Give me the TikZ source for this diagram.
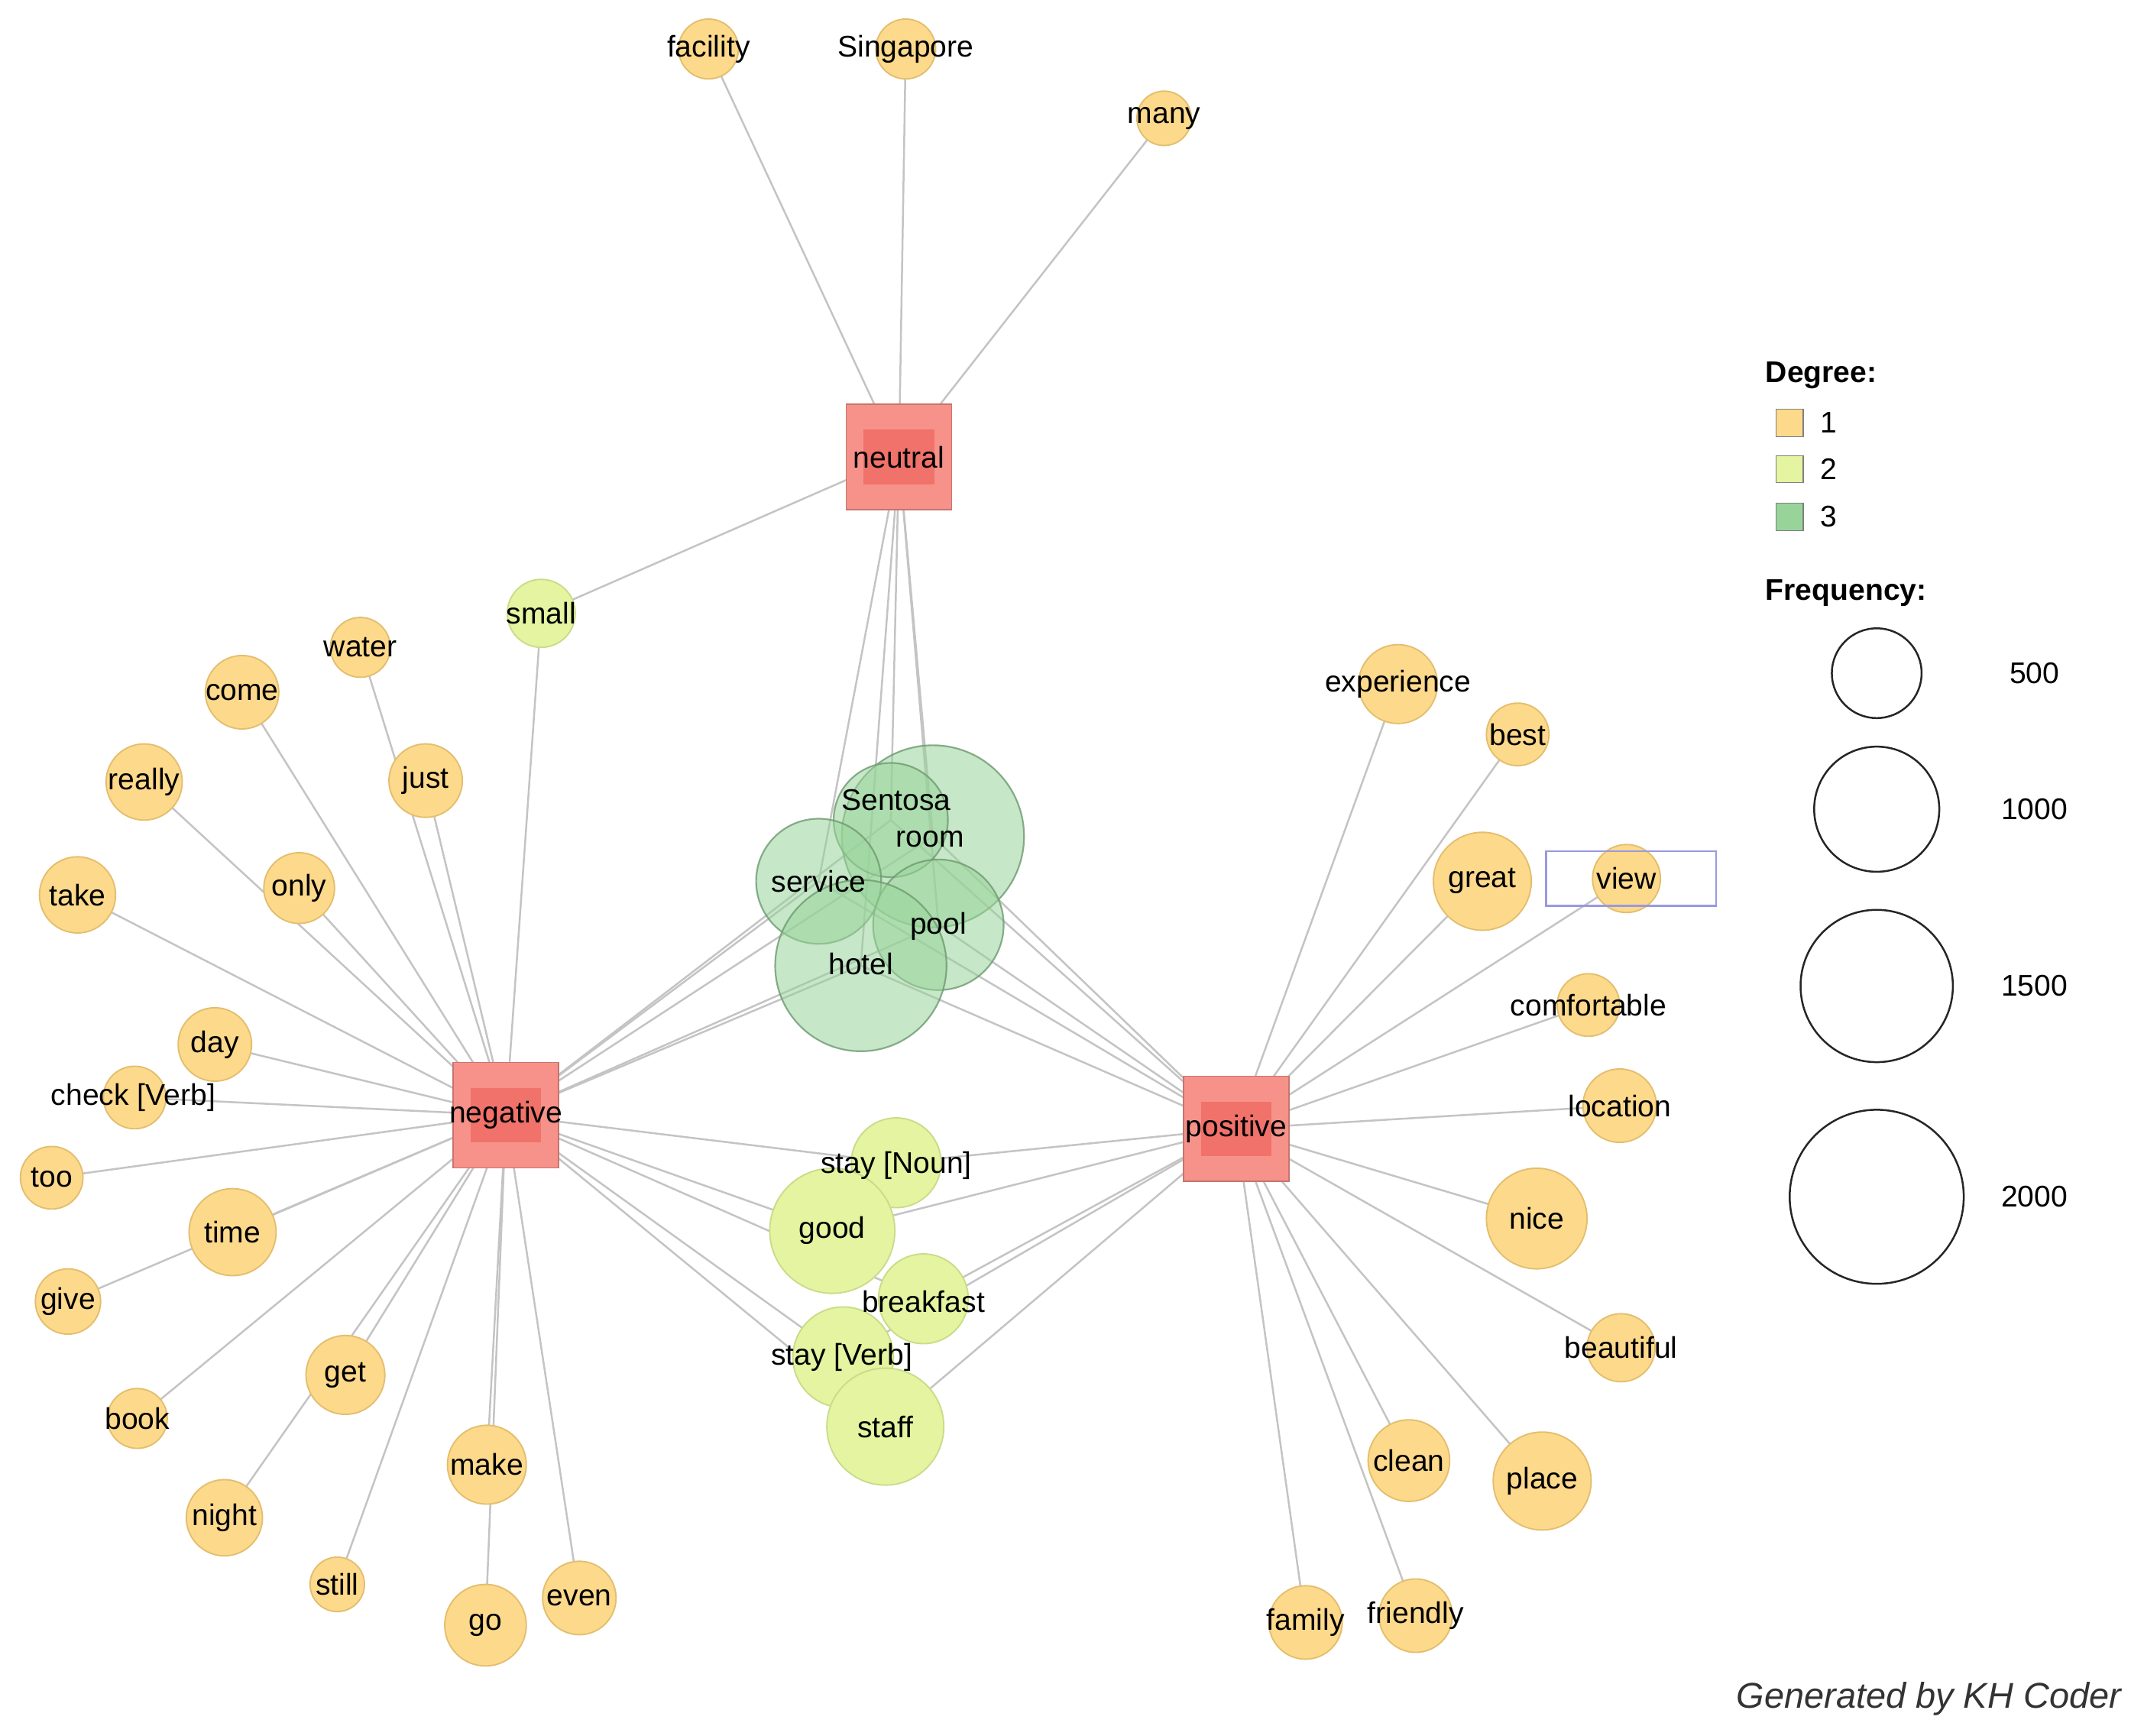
\documentclass[tikz,border=0pt]{standalone}
\usepackage{fontspec}
\setmainfont{Liberation Sans}
\usetikzlibrary{backgrounds}
\definecolor{yl}{HTML}{FDD98B}
\definecolor{yld}{HTML}{E3BE6E}
\definecolor{yg}{HTML}{E4F4A0}
\definecolor{ygd}{HTML}{C9DC88}
\definecolor{gr}{HTML}{98D49A}
\definecolor{grd}{HTML}{6E9A70}
\definecolor{hub}{HTML}{F6928A}
\definecolor{hubi}{HTML}{F0726A}
\definecolor{ed}{HTML}{C4C4C4}
\begin{document}
\begin{tikzpicture}[x=0.02cm,y=-0.02cm,
  lab/.style={font=\fontsize{12.5}{14}\selectfont,inner sep=0pt},
  cy/.style={circle,fill=yl,draw=yld,line width=0.6pt,inner sep=0pt},
  cg/.style={circle,fill=yg,draw=ygd,line width=0.6pt,inner sep=0pt},
  cgr/.style={circle,fill=gr,fill opacity=0.55,draw=grd,draw opacity=0.8,line width=0.7pt,inner sep=0pt},
  hubs/.style={rectangle,fill=hub,draw=hub!80!black,line width=0.5pt,minimum size=1.55cm,inner sep=0pt},
  edge/.style={draw=ed,line width=0.8pt},
  leg/.style={circle,draw=black!85,line width=0.8pt,inner sep=0pt}]
\useasboundingbox (0,0) rectangle (1567,1276);
% hubs
\foreach \n/\x/\y in {neutral/661/336,negative/372/820,positive/909/830}{
  \node[hubs] (\n) at (\x,\y) {};
  \fill[hubi] (\x-26,\y-20) rectangle (\x+26,\y+20);
}
% degree-1 yellow nodes
\foreach \n/\x/\y/\r in {facility/521/36/22,singapore/666/36/22,many/856/87/20,
  water/265/476/22,come/178/509/27,really/106/575/28,just/313/574/27,only/220/653/26,
  take/57/658/28,day/158/768/27,checkv/99/807/23,too/38/866/23,time/171/906/32,
  give/50/957/24,book/101/1043/22,get/254/1011/29,night/165/1116/28,still/248/1165/20,
  make/358/1077/29,go/357/1195/30,even/426/1175/27,
  experience/1028/503/29,best/1116/540/23,great/1090/648/36,view/1196/646/25,
  comfortable/1168/739/23,location/1191/813/27,nice/1130/896/37,beautiful/1192/991/25,
  clean/1036/1074/30,place/1134/1089/36,family/960/1193/27,friendly/1041/1188/27}{
  \node[cy,minimum size=2*\r*0.02cm] (\n) at (\x,\y) {};
}
% degree-2
\foreach \n/\x/\y/\r in {small/398/451/25,staynoun/659/855/33,good/612/905/46,
  breakfast/679/955/33,stayverb/620/998/37,staff/651/1049/43}{
  \node[cg,minimum size=2*\r*0.02cm] (\n) at (\x,\y) {};
}
% degree-3
\foreach \n/\x/\y/\r in {room/686/615/67,sentosa/655/603/42,service/602/648/46,pool/690/680/48,hotel/633/710/63}{
  \node[cgr,minimum size=2*\r*0.02cm] (\n) at (\x,\y) {};
}
\draw[draw=black!30!blue!40,line width=0.8pt] (1137,626) rectangle (1262,666);
% edges
\begin{scope}[on background layer]
\foreach \t in {facility,singapore,many,small,sentosa,room,service,pool,hotel}
  \draw[edge] (neutral.center) -- (\t.center);
\foreach \t in {small,water,come,really,just,only,take,day,checkv,too,time,give,book,get,night,still,make,go,even,
  sentosa,room,service,pool,hotel,staynoun,good,breakfast,stayverb,staff}
  \draw[edge] (negative.center) -- (\t.center);
\foreach \t in {experience,best,great,view,comfortable,location,nice,beautiful,clean,place,family,friendly,
  sentosa,room,service,pool,hotel,staynoun,good,breakfast,stayverb,staff}
  \draw[edge] (positive.center) -- (\t.center);
\end{scope}
% labels
\foreach \x/\y/\t in {661/336/neutral,372/820/negative,909/830/positive,
  521/36/facility,666/36/Singapore,856/87/many,398/451/small,
  265/476/water,178/509/come,106/575/really,313/574/just,220/653/only,57/658/take,
  158/768/day,98/807/{check [Verb]},38/866/too,171/906/time,50/957/give,101/1043/book,
  254/1011/get,165/1116/night,248/1165/still,358/1077/make,357/1195/go,426/1175/even,
  1028/503/experience,1116/540/best,1090/648/great,1196/646/view,1168/739/comfortable,
  1191/813/location,1130/896/nice,1192/991/beautiful,1036/1074/clean,1134/1089/place,
  960/1193/family,1041/1188/friendly,
  659/588/Sentosa,684/617/room,602/648/service,690/681/pool,633/709/hotel,
  659/857/{stay [Noun]},612/905/good,679/957/breakfast,619/998/{stay [Verb]},651/1049/staff}
  \node[lab] at (\x,\y) {\t};
% legend
\node[lab,anchor=west,font=\bfseries\fontsize{12.5}{14}\selectfont] (dg) at (1298,276) {Degree:};
\foreach \c/\y/\t in {yl/311/1,yg/345/2,gr/380/3}{
  \node[rectangle,fill=\c,draw=black!50,minimum size=0.4cm,inner sep=0pt] (sq\t) at (1316,\y) {};
  \node[lab,anchor=west] at (1338,\y) {\t};
}
\node[lab,anchor=west,font=\bfseries\fontsize{12.5}{14}\selectfont] (fq) at (1298,436) {Frequency:};
\foreach \y/\r/\t in {495/33/500,595/46/1000,725/56/1500,880/64/2000}{
  \node[leg,minimum size=2*\r*0.02cm] (l\t) at (1380,\y) {};
  \node[lab] at (1496,\y) {\t};
}
\node[lab,anchor=east,font=\itshape\fontsize{15}{17}\selectfont,text=black!80] (gen) at (1560,1249) {Generated by KH Coder};
\end{tikzpicture}
\end{document}
